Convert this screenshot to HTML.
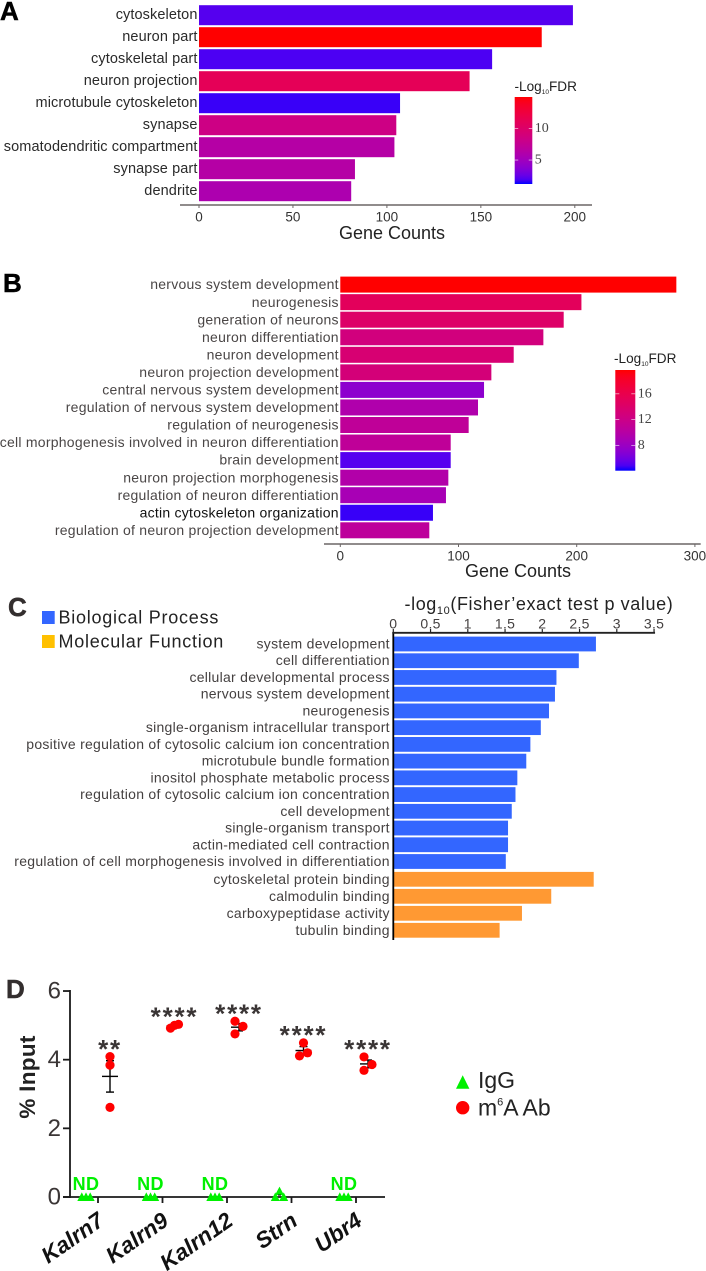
<!DOCTYPE html>
<html lang="en">
<head>
<meta charset="utf-8">
<title>Gene ontology enrichment and m6A input chart</title>
<style>
  html, body { margin: 0; padding: 0; background: #ffffff; }
  #figure { display: block; width: 706px; height: 1271px; font-family: "Liberation Sans", Arial, sans-serif; }
  .panel-letter { font-weight: bold; font-size: 26px; stroke-width: 0.5px; }
</style>
</head>
<body>
<svg id="figure" xmlns="http://www.w3.org/2000/svg" width="706" height="1271" viewBox="0 0 706 1271">
  <defs id="gradients"></defs>
  <rect x="0" y="0" width="706" height="1271" fill="#ffffff"></rect>
  <text class="panel-letter" x="0" y="20" fill="#000000" stroke="#000000">A</text>
  <text class="panel-letter" x="3" y="292" fill="#000000" stroke="#000000">B</text>
  <text class="panel-letter" x="8" y="616" fill="#332e2e" stroke="#332e2e">C</text>
  <text class="panel-letter" x="6" y="998" fill="#332e2e" stroke="#332e2e">D</text>
  <g id="panel-a"></g>
  <g id="panel-b"></g>
  <g id="panel-c"></g>
  <g id="panel-d"></g>
</svg>
<script>
const panelACategories = ["cytoskeleton", "neuron part", "cytoskeletal part", "neuron projection", "microtubule cytoskeleton", "synapse", "somatodendritic compartment", "synapse part", "dendrite"];
const panelACounts = [199, 182.4, 156, 144, 107, 105, 104, 83, 81];
const panelAFdr = [2.1, 15, 1.9, 11.1, 1.6, 8.4, 6.4, 6.4, 5.8];
const panelATicks = [0, 50, 100, 150, 200];
const panelAFdrDomain = [1.2, 15];
const panelAFdrTicks = [5, 10];

const panelBCategories = ["nervous system development", "neurogenesis", "generation of neurons", "neuron differentiation", "neuron development", "neuron projection development", "central nervous system development", "regulation of nervous system development", "regulation of neurogenesis", "cell morphogenesis involved in neuron differentiation", "brain development", "neuron projection morphogenesis", "regulation of neuron differentiation", "actin cytoskeleton organization", "regulation of neuron projection development"];
const panelBCounts = [284.3, 204, 189, 171.8, 146.7, 127.8, 121.6, 116.5, 108.6, 93.4, 93.4, 91.4, 89.4, 78.4, 75.3];
const panelBFdr = [19.7, 15, 14.2, 12.7, 13.4, 13, 7.2, 9.5, 10.8, 10.8, 5.1, 9.7, 8.9, 4.5, 10.6];
const panelBTicks = [0, 100, 200, 300];
const panelBFdrDomain = [4.06, 19.7];
const panelBFdrTicks = [8, 12, 16];

const panelCProcessCategories = ["system development", "cell differentiation", "cellular developmental process", "nervous system development", "neurogenesis", "single-organism intracellular transport", "positive regulation of cytosolic calcium ion concentration", "microtubule bundle formation", "inositol phosphate metabolic process", "regulation of cytosolic calcium ion concentration", "cell development", "single-organism transport", "actin-mediated cell contraction", "regulation of cell morphogenesis involved in differentiation"];
const panelCProcessValues = [2.72, 2.49, 2.19, 2.17, 2.09, 1.98, 1.84, 1.785, 1.665, 1.64, 1.59, 1.54, 1.54, 1.51];
const panelCFunctionCategories = ["cytoskeletal protein binding", "calmodulin binding", "carboxypeptidase activity", "tubulin binding"];
const panelCFunctionValues = [2.69, 2.12, 1.727, 1.427];
const panelCTicks = [0, 0.5, 1, 1.5, 2, 2.5, 3, 3.5];

const panelDGenes = ["Kalrn7", "Kalrn9", "Kalrn12", "Strn", "Ubr4"];
const panelDIgg = [[0, 0, 0], [0, 0, 0], [0, 0, 0], [0, 0.17, 0], [0, 0, 0]];
const panelDAntibody = [[4.09, 3.84, 2.61], [5.03, 5.0, 4.92], [5.12, 4.97, 4.75], [4.49, 4.2, 4.11], [4.08, 3.86, 3.69]];
const panelDStars = ["**", "****", "****", "****", "****"];
const panelDTicks = [0, 2, 4, 6];

const SVG_NS = "http://www.w3.org/2000/svg";

function addNode(parent, tag, attrs, name) {
  const el = document.createElementNS(SVG_NS, tag);
  for (const key in attrs) { el.setAttribute(key, attrs[key]); }
  
  
  parent.appendChild(el);
  return el;
}

function addText(parent, content, attrs, name) {
  const el = addNode(parent, "text", attrs, name);
  el.textContent = content;
  return el;
}

function slug(text) {
  return String(text).toLowerCase().replace(/[^a-z0-9]+/g, "-");
}

function labColor(t) {
  const L = 32.3 + (53.24 - 32.3) * t;
  const a = 79.19 + (80.09 - 79.19) * t;
  const b = -107.86 + (67.2 + 107.86) * t;
  const fy = (L + 16) / 116, fx = fy + a / 500, fz = fy - b / 200;
  const f = v => v > 0.2069 ? v * v * v : (v - 16 / 116) / 7.787;
  const X = 0.9505 * f(fx), Y = f(fy), Z = 1.089 * f(fz);
  const lin = [3.2406 * X - 1.5372 * Y - 0.4986 * Z, -0.9689 * X + 1.8758 * Y + 0.0415 * Z, 0.0557 * X - 0.204 * Y + 1.057 * Z];
  const out = lin.map(v => {
    const c = Math.max(0, Math.min(1, v));
    const s = c <= 0.0031308 ? 12.92 * c : 1.055 * Math.pow(c, 1 / 2.4) - 0.055;
    return Math.round(s * 255);
  });
  return "rgb(" + out.join(",") + ")";
}

function drawCountPanel(root, cfg) {
  const x = v => cfg.x0 + cfg.xUnit * v;
  const y = i => cfg.yStart + cfg.yStep * i;
  const fill = v => labColor((v - cfg.domain[0]) / (cfg.domain[1] - cfg.domain[0]));

  cfg.categories.forEach((label, i) => {
    addNode(root, "rect", { x: x(0), y: y(i) - cfg.barHeight / 2, width: x(cfg.counts[i]) - x(0), height: cfg.barHeight, fill: fill(cfg.fdr[i]) }, "bar-" + slug(label));
    const dark = label === cfg.darkLabel;
    addText(root, label, { x: x(0) - 1.5, y: y(i) - 0.4, "text-anchor": "end", "dominant-baseline": "central", "font-size": cfg.labelSize, "letter-spacing": cfg.labelSpacing, fill: dark ? "#111111" : cfg.labelColor }, "category-label-" + slug(label));
  });

  addNode(root, "line", { x1: cfg.axisStart, x2: cfg.axisEnd, y1: cfg.axisY, y2: cfg.axisY, stroke: "#6b6666", "stroke-width": 1.6 }, "x-axis-line");
  cfg.ticks.forEach(t => {
    addNode(root, "line", { x1: x(t), x2: x(t), y1: cfg.axisY, y2: cfg.axisY + 3, stroke: "#6b6666", "stroke-width": 1 }, "x-tick-" + t);
    addText(root, t, { x: x(t), y: cfg.axisY + 12, "text-anchor": "middle", "dominant-baseline": "central", "font-size": 13.5, fill: "#333333" }, "x-tick-label-" + t);
  });
  addText(root, "Gene Counts", { x: cfg.titleX, y: cfg.titleY, "text-anchor": "middle", "dominant-baseline": "central", "font-size": 18, fill: "#222222" }, "x-axis-title");

  const legend = addNode(root, "g", {}, "fdr-color-legend");
  const title = addText(legend, "-Log", { x: cfg.legendTitleX, y: cfg.legendTitleY, "font-size": 13.6, fill: "#222222" }, "fdr-legend-title");
  const sub = document.createElementNS(SVG_NS, "tspan");
  sub.setAttribute("font-size", "6.5");
  sub.setAttribute("dy", "3");
  sub.textContent = "10";
  title.appendChild(sub);
  const tail = document.createElementNS(SVG_NS, "tspan");
  tail.setAttribute("dy", "-3");
  tail.textContent = "FDR";
  title.appendChild(tail);

  const defs = document.getElementById("gradients");
  const grad = document.createElementNS(SVG_NS, "linearGradient");
  grad.setAttribute("id", cfg.id + "-gradient");
  grad.setAttribute("x1", "0");
  grad.setAttribute("y1", "1");
  grad.setAttribute("x2", "0");
  grad.setAttribute("y2", "0");
  for (let s = 0; s <= 20; s++) {
    const stop = document.createElementNS(SVG_NS, "stop");
    stop.setAttribute("offset", s / 20);
    stop.setAttribute("stop-color", labColor(s / 20));
    grad.appendChild(stop);
  }
  defs.appendChild(grad);

  const barY = v => cfg.legendBottom - (v - cfg.domain[0]) / (cfg.domain[1] - cfg.domain[0]) * (cfg.legendBottom - cfg.legendTop);
  addNode(legend, "rect", { x: cfg.legendX, y: cfg.legendTop, width: cfg.legendW, height: cfg.legendBottom - cfg.legendTop, fill: "url(#" + cfg.id + "-gradient)" }, "fdr-color-bar");
  cfg.fdrTicks.forEach(t => {
    const w = cfg.legendW / 5;
    addNode(legend, "line", { x1: cfg.legendX, x2: cfg.legendX + w, y1: barY(t), y2: barY(t), stroke: "#ffffff", "stroke-opacity": 0.8, "stroke-width": 0.7 }, "fdr-tick-left-" + t);
    addNode(legend, "line", { x1: cfg.legendX + cfg.legendW - w, x2: cfg.legendX + cfg.legendW, y1: barY(t), y2: barY(t), stroke: "#ffffff", "stroke-opacity": 0.8, "stroke-width": 0.7 }, "fdr-tick-right-" + t);
    addText(legend, t, { x: cfg.legendX + cfg.legendW + 2.5, y: barY(t), "dominant-baseline": "central", "font-family": "'Liberation Serif', serif", "font-size": 14, fill: "#444444" }, "fdr-tick-label-" + t);
  });
}

drawCountPanel(document.getElementById("panel-a"), {
  id: "panel-a", categories: panelACategories, counts: panelACounts, fdr: panelAFdr, ticks: panelATicks, domain: panelAFdrDomain, fdrTicks: panelAFdrTicks,
  x0: 199, xUnit: 1.879, yStart: 15.2, yStep: 22, barHeight: 20, labelSize: 14.5, labelSpacing: 0.1, labelColor: "#2a2a2a",
  axisStart: 180, axisEnd: 592, axisY: 205, titleX: 392, titleY: 233,
  legendTitleX: 514.5, legendTitleY: 91, legendX: 514.7, legendW: 17.6, legendTop: 97, legendBottom: 184
});

drawCountPanel(document.getElementById("panel-b"), {
  id: "panel-b", categories: panelBCategories, counts: panelBCounts, fdr: panelBFdr, ticks: panelBTicks, domain: panelBFdrDomain, fdrTicks: panelBFdrTicks,
  x0: 340.3, xUnit: 1.182, yStart: 284.6, yStep: 17.55, barHeight: 16, labelSize: 14, labelSpacing: 0.25, labelColor: "#4a4646", darkLabel: "actin cytoskeleton organization",
  axisStart: 324, axisEnd: 700.7, axisY: 544, titleX: 518, titleY: 571,
  legendTitleX: 614, legendTitleY: 363, legendX: 615.3, legendW: 20, legendTop: 370, legendBottom: 470.7
});

(function drawPanelC() {
  const root = document.getElementById("panel-c");
  const x = v => 393.3 + 74.5 * v;
  const groupY = (start, step) => i => start + step * i;
  const drawGroup = (cats, vals, y, color, prefix) => {
    cats.forEach((label, i) => {
      addNode(root, "rect", { x: x(0), y: y(i) - 7.4, width: x(vals[i]) - x(0), height: 14.8, fill: color }, prefix + "-bar-" + slug(label));
      addText(root, label, { x: 389.8, y: y(i) - 0.5, "text-anchor": "end", "dominant-baseline": "central", "font-size": 14, "letter-spacing": 0.27, fill: "#444040" }, prefix + "-label-" + slug(label));
    });
  };
  drawGroup(panelCProcessCategories, panelCProcessValues, groupY(644, 16.73), "#3366ff", "process");
  drawGroup(panelCFunctionCategories, panelCFunctionValues, groupY(879.3, 17), "#ff9933", "function");

  addNode(root, "line", { x1: 393.3, x2: 393.3, y1: 632, y2: 940, stroke: "#000000", "stroke-width": 1.8 }, "y-axis-line");
  addNode(root, "line", { x1: x(0) - 1, x2: x(3.5) + 1, y1: 632.8, y2: 632.8, stroke: "#222222", "stroke-width": 1.8 }, "x-axis-line");
  panelCTicks.forEach(t => {
    addNode(root, "line", { x1: x(t), x2: x(t), y1: 629, y2: 633, stroke: "#222222", "stroke-width": 1.2 }, "x-tick-" + slug(t));
    addText(root, t, { x: x(t), y: 623.5, "text-anchor": "middle", "dominant-baseline": "central", "font-size": 14, "letter-spacing": 0.3, fill: "#444040" }, "x-tick-label-" + slug(t));
  });

  const title = addText(root, "-log", { x: 404.5, y: 610, "font-size": 18, "letter-spacing": 0.6, fill: "#222222" }, "x-axis-title");
  const sub = document.createElementNS(SVG_NS, "tspan");
  sub.setAttribute("font-size", "11");
  sub.setAttribute("dy", "4");
  sub.textContent = "10";
  title.appendChild(sub);
  const rest = document.createElementNS(SVG_NS, "tspan");
  rest.setAttribute("dy", "-4");
  rest.textContent = "(Fisher\u2019exact test p value)";
  title.appendChild(rest);

  addNode(root, "rect", { x: 42, y: 611, width: 12.7, height: 13, fill: "#3366ff" }, "legend-swatch-biological-process");
  addText(root, "Biological Process", { x: 58.5, y: 617.5, "dominant-baseline": "central", "font-size": 18, "letter-spacing": 0.75, fill: "#222222" }, "legend-label-biological-process");
  addNode(root, "rect", { x: 42, y: 635, width: 12.7, height: 13, fill: "#ffc000" }, "legend-swatch-molecular-function");
  addText(root, "Molecular Function", { x: 58.5, y: 641.5, "dominant-baseline": "central", "font-size": 18, "letter-spacing": 0.75, fill: "#222222" }, "legend-label-molecular-function");
})();

(function drawPanelD() {
  const root = document.getElementById("panel-d");
  const x = i => 98 + 64.5 * i;
  const y = v => 1197 - 34.33 * v;
  const ink = "#3a3535";
  const green = "#00f000";
  const triangle = (cx, cy, w, h) => [cx, cy - h / 2, cx - w / 2, cy + h / 2, cx + w / 2, cy + h / 2].join(",");
  const meanOf = a => a.reduce((s, v) => s + v, 0) / a.length;
  const semOf = a => {
    const m = meanOf(a);
    return Math.sqrt(a.reduce((s, v) => s + (v - m) * (v - m), 0) / (a.length - 1)) / Math.sqrt(a.length);
  };
  const swarm = values => {
    const px = values.map(y);
    const gaps = [px[1] - px[0], px[2] - px[1]];
    if (gaps[0] >= 8 && gaps[1] >= 8) { return [0, 0, 0]; }
    if (gaps[0] >= 8) { return [0, 4, -4]; }
    if (gaps[1] >= 8) { return [4, -4, 0]; }
    if (px[2] - px[0] < 5) { return [4, 0, -4]; }
    return [-4, 4, -4];
  };

  addNode(root, "line", { x1: 70, x2: 70, y1: 990, y2: 1198, stroke: "#1a1a1a", "stroke-width": 1.8 }, "y-axis-line");
  addNode(root, "line", { x1: 63, x2: 385, y1: 1197, y2: 1197, stroke: "#1a1a1a", "stroke-width": 1.8 }, "x-axis-line");
  panelDTicks.forEach(t => {
    addNode(root, "line", { x1: 63, x2: 70, y1: y(t), y2: y(t), stroke: "#1a1a1a", "stroke-width": 1.8 }, "y-tick-" + t);
    addText(root, t, { x: 61, y: y(t), "text-anchor": "end", "dominant-baseline": "central", "font-size": 24, fill: ink }, "y-tick-label-" + t);
  });
  addText(root, "% Input", { transform: "translate(35 1077) rotate(-90)", "text-anchor": "middle", "font-size": 22.5, "font-weight": "bold", "letter-spacing": 0.3, fill: "#222222" }, "y-axis-title");

  panelDGenes.forEach((gene, i) => {
    const key = slug(gene);
    addNode(root, "line", { x1: x(i), x2: x(i), y1: 1197, y2: 1203, stroke: "#1a1a1a", "stroke-width": 1.8 }, "x-tick-" + key);
    addText(root, gene, { transform: "translate(" + (x(i) + 7.5) + " 1224) rotate(-35)", "text-anchor": "end", "font-size": 22.5, "font-weight": "bold", "font-style": "italic", fill: "#111111" }, "x-label-" + key);

    const igg = panelDIgg[i];
    const iggX = x(i) - 12;
    igg.forEach((v, k) => {
      addNode(root, "polygon", { points: triangle(iggX + (k - 1) * 4.2, y(v) - 0.3, 9, 8.6), fill: green }, "igg-point-" + key + "-" + k);
    });
    if (igg.every(v => v === 0)) {
      addText(root, "ND", { x: iggX, y: 1184, "text-anchor": "middle", "dominant-baseline": "central", "font-size": 18, "font-weight": "bold", "letter-spacing": 0.4, fill: green }, "not-detected-label-" + key);
    } else {
      addNode(root, "line", { x1: iggX - 1.5, x2: iggX + 1.5, y1: y(meanOf(igg)), y2: y(meanOf(igg)), stroke: "#000000", "stroke-width": 1 }, "igg-mean-" + key);
    }

    const vals = panelDAntibody[i];
    const cx = x(i) + 12;
    const mean = meanOf(vals);
    const sem = semOf(vals);
    addNode(root, "line", { x1: cx, x2: cx, y1: y(mean + sem), y2: y(mean - sem), stroke: "#000000", "stroke-width": 1.4 }, "error-bar-" + key);
    addNode(root, "line", { x1: cx - 4, x2: cx + 4, y1: y(mean + sem), y2: y(mean + sem), stroke: "#000000", "stroke-width": 1.4 }, "error-cap-top-" + key);
    addNode(root, "line", { x1: cx - 4, x2: cx + 4, y1: y(mean - sem), y2: y(mean - sem), stroke: "#000000", "stroke-width": 1.4 }, "error-cap-bottom-" + key);
    addNode(root, "line", { x1: cx - 8, x2: cx + 8, y1: y(mean), y2: y(mean), stroke: "#000000", "stroke-width": 1.4 }, "mean-line-" + key);
    const offsets = swarm(vals);
    vals.forEach((v, k) => {
      addNode(root, "circle", { cx: cx + offsets[k], cy: y(v), r: 4.6, fill: "#ff0000" }, "antibody-point-" + key + "-" + k);
    });
    addText(root, panelDStars[i], { x: cx, y: y(Math.max.apply(null, vals)) + 1.2, "text-anchor": "middle", "font-size": 26, "font-weight": "bold", "letter-spacing": 1.8, fill: ink }, "significance-stars-" + key);
  });

  addNode(root, "polygon", { points: triangle(462.7, 1082, 13.4, 13.4), fill: green }, "legend-marker-igg");
  addText(root, "IgG", { x: 478, y: 1080, "dominant-baseline": "central", "font-size": 23, fill: "#222222" }, "legend-label-igg");
  addNode(root, "circle", { cx: 462.7, cy: 1107.7, r: 6.7, fill: "#ff0000" }, "legend-marker-antibody");
  const ab = addText(root, "m", { x: 478, y: 1115.5, "font-size": 23, fill: "#222222" }, "legend-label-antibody");
  const six = document.createElementNS(SVG_NS, "tspan");
  six.setAttribute("font-size", "11");
  six.setAttribute("dy", "-10");
  six.textContent = "6";
  ab.appendChild(six);
  const abTail = document.createElementNS(SVG_NS, "tspan");
  abTail.setAttribute("dy", "10");
  abTail.textContent = "A Ab";
  ab.appendChild(abTail);
})();
</script>
</body>
</html>
